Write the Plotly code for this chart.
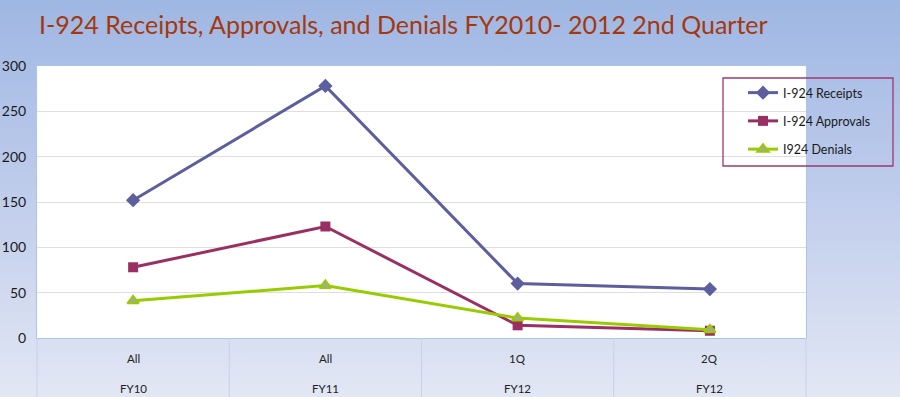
import base64
import plotly.graph_objects as go

periods = ["All", "All", "1Q", "2Q"]
fiscal_years = ["FY10", "FY11", "FY12", "FY12"]
receipts = [152, 278, 60, 54]
approvals = [78, 123, 14, 8]
denials = [41, 58, 22, 9]
y_ticks = [0, 50, 100, 150, 200, 250, 300]
title_text = "I-924 Receipts, Approvals, and Denials FY2010- 2012 2nd Quarter"

cats = [f"{fy} {p}" for fy, p in zip(fiscal_years, periods)]

W, H = 900, 397
ML, MR, MT, MB = 37, 94, 66, 59
pw, ph = W - ML - MR, H - MT - MB

fig = go.Figure()
fig.add_trace(go.Scatter(x=cats, y=receipts, name="I-924 Receipts", mode="lines+markers",
                         line=dict(color="#5d5e9e", width=3),
                         marker=dict(symbol="diamond", size=11, color="#5d5e9e"),
                         legendgroup="a"))
fig.add_trace(go.Scatter(x=cats, y=approvals, name="I-924 Approvals", mode="lines+markers",
                         line=dict(color="#9a2f63", width=3),
                         marker=dict(symbol="square", size=10, color="#9a2f63"),
                         legendgroup="b"))
fig.add_trace(go.Scatter(x=cats, y=denials, name="I924 Denials", mode="lines+markers",
                         line=dict(color="#99cc00", width=3),
                         marker=dict(symbol="triangle-up", size=10, color="#a6a6a6",
                                     line=dict(color="#99cc00", width=2)),
                         legendgroup="c"))

svg = f'''<svg xmlns="http://www.w3.org/2000/svg" width="{W}" height="{H}" preserveAspectRatio="none">
<defs><linearGradient id="g" x1="0" y1="0" x2="0" y2="1">
<stop offset="0" stop-color="#9fb7e3"/><stop offset="0.5" stop-color="#c0cdec"/><stop offset="1" stop-color="#e2e7f4"/>
</linearGradient></defs><rect width="{W}" height="{H}" fill="url(#g)"/></svg>'''
uri = "data:image/svg+xml;base64," + base64.b64encode(svg.encode()).decode()

fig.add_layout_image(dict(source=uri, xref="paper", yref="paper",
                          x=-ML / pw, y=1 + MT / ph, sizex=W / pw, sizey=H / ph,
                          xanchor="left", yanchor="top", sizing="stretch", layer="below"))

shapes = [dict(type="rect", xref="paper", yref="paper", x0=0, x1=1, y0=0, y1=1,
               fillcolor="white", line=dict(width=0), layer="below")]
n = len(cats)
for i in range(n + 1):
    shapes.append(dict(type="line", xref="paper", yref="paper", x0=i / n, x1=i / n,
                       y0=0, y1=-MB / ph, line=dict(color="#c9d2e6", width=1)))
# legend frame
shapes.append(dict(type="rect", xref="paper", yref="paper",
                   x0=(723 - ML) / pw, x1=(893 - ML) / pw,
                   y0=1 - (166 - MT) / ph, y1=1 - (78 - MT) / ph,
                   line=dict(color="#9c3a6f", width=1.3), fillcolor="rgba(0,0,0,0)",
                   layer="above"))
fig.update_layout(shapes=shapes)

for c, p, fy in zip(cats, periods, fiscal_years):
    fig.add_annotation(x=c, xref="x", yref="paper", y=-20 / ph, text=p, showarrow=False,
                       font=dict(family="Lato", size=11.5, color="#222222"), yanchor="middle")
    fig.add_annotation(x=c, xref="x", yref="paper", y=-50 / ph, text=fy, showarrow=False,
                       font=dict(family="Lato", size=11.5, color="#222222"), yanchor="middle")

fig.update_layout(
    width=W, height=H,
    margin=dict(l=ML, r=MR, t=MT, b=MB, autoexpand=False),
    paper_bgcolor="#c0cdec", plot_bgcolor="white",
    title=dict(text=title_text, x=39 / W, xref="container", xanchor="left",
               y=1 - 25 / H, yref="container", yanchor="middle",
               font=dict(family="Lato", size=25, color="#a3380e")),
    xaxis=dict(type="category", range=[-0.5, n - 0.5], showticklabels=False,
               showgrid=False, showline=True, linecolor="#a9c6ea", linewidth=1,
               mirror=True, ticks="", zeroline=False, automargin=False),
    yaxis=dict(range=[0, 300], tickvals=y_ticks, showgrid=True, gridcolor="#dedede",
               showline=True, linecolor="#a9c6ea", mirror=True, zeroline=False,
               tickfont=dict(family="Lato", size=14, color="#1a1a1a"), automargin=False,
               ticks="outside", ticklen=7, tickcolor="rgba(0,0,0,0)"),
    legend=dict(x=(743 - ML) / pw, y=1 - (78 - MT) / ph, xanchor="left", yanchor="top",
                bgcolor="rgba(0,0,0,0)", borderwidth=0,
                font=dict(family="Lato", size=12.5, color="#1a1a1a"),
                tracegroupgap=9, itemwidth=30),
    showlegend=True,
)

fig.write_html("out.html", config={"displayModeBar": False},
               post_script="document.body.style.margin='0px';document.body.style.overflow='hidden';")
